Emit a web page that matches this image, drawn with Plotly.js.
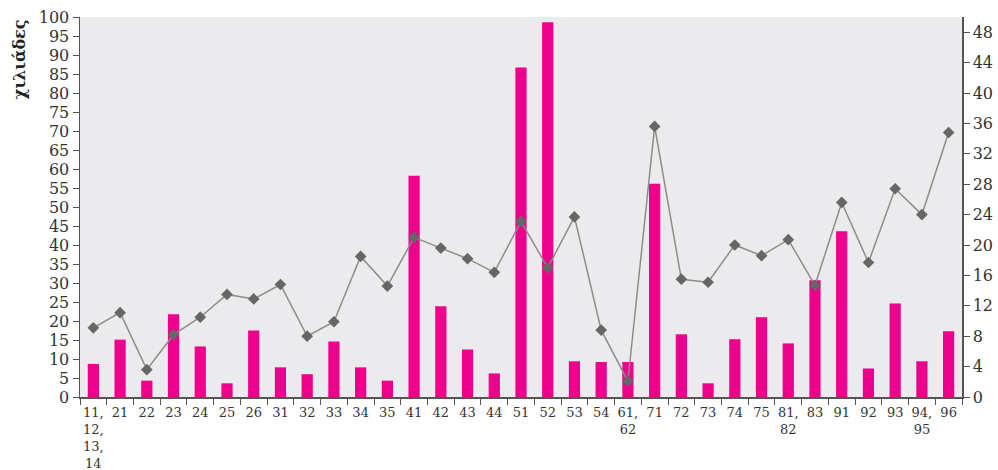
<!DOCTYPE html>
<html>
<head>
<meta charset="utf-8">
<script src="https://cdn.plot.ly/plotly-3.0.1.min.js"></script>
<style>html,body{margin:0;padding:0;background:#fff;}#chart{width:998px;height:470px;}</style>
</head>
<body>
<div id="chart"></div>
<script>
const categories = ["11,<br>12,<br>13,<br>14","21","22","23","24","25","26","31","32","33","34","35","41","42","43","44","51","52","53","54","61,<br>62","71","72","73","74","75","81,<br>82","83","91","92","93","94,<br>95","96"];
const barValues = [8.7,15.1,4.3,21.8,13.3,3.6,17.5,7.8,6.0,14.6,7.8,4.3,58.2,23.9,12.5,6.2,86.7,98.6,9.4,9.2,9.2,56.1,16.5,3.6,15.2,21.0,14.1,30.7,43.6,7.5,24.6,9.4,17.3];
const lineValues = [9.1,11.1,3.6,8.2,10.5,13.5,12.9,14.8,8.0,9.9,18.5,14.6,21.0,19.6,18.2,16.4,23.1,17.0,23.7,8.8,2.1,35.6,15.5,15.1,20.0,18.6,20.7,14.7,25.6,17.7,27.4,24.0,34.8];
const leftTicks = [0,5,10,15,20,25,30,35,40,45,50,55,60,65,70,75,80,85,90,95,100];
const rightTicks = [0,4,8,12,16,20,24,28,32,36,40,44,48];
const yTitle = "χιλιάδες";

const font = "DejaVu Serif, Liberation Serif, serif";
const axisColor = "#555555";

const traces = [
  {
    type: "bar",
    x: categories,
    y: barValues,
    marker: {color: "#EC008C"},
    width: 0.42,
    yaxis: "y",
    hoverinfo: "x+y"
  },
  {
    type: "scatter",
    mode: "lines+markers",
    x: categories,
    y: lineValues,
    yaxis: "y2",
    line: {color: "#8C8C8C", width: 1.5},
    marker: {symbol: "diamond", size: 9, color: "#666666"},
    hoverinfo: "x+y"
  }
];

const layout = {
  width: 998,
  height: 470,
  margin: {l: 80, r: 36, t: 17, b: 73},
  paper_bgcolor: "#ffffff",
  plot_bgcolor: "#EBEBED",
  showlegend: false,
  xaxis: {
    type: "category",
    range: [-0.5, categories.length - 0.5],
    tickson: "boundaries",
    ticks: "outside",
    ticklen: 6,
    tickcolor: axisColor,
    showline: true,
    linecolor: axisColor,
    linewidth: 1.5,
    showgrid: false,
    tickfont: {family: font, size: 13, color: "#333333"},
    ticklabelstandoff: 3,
    tickangle: 0,
    automargin: false
  },
  yaxis: {
    range: [0, 100],
    tickvals: leftTicks,
    ticks: "outside",
    ticklen: 6,
    tickcolor: axisColor,
    showline: true,
    linecolor: axisColor,
    linewidth: 1.5,
    showgrid: false,
    zeroline: false,
    tickfont: {family: font, size: 16, color: "#333333"},
    automargin: false
  },
  yaxis2: {
    range: [0, 50],
    tickvals: rightTicks,
    overlaying: "y",
    side: "right",
    ticks: "outside",
    ticklen: 6,
    tickcolor: axisColor,
    showline: true,
    linecolor: axisColor,
    linewidth: 1.5,
    showgrid: false,
    zeroline: false,
    tickfont: {family: font, size: 16, color: "#333333"},
    automargin: false
  },
  annotations: [
    {
      text: "<b>" + yTitle + "</b>",
      xref: "paper", yref: "paper",
      x: -0.069, y: 1.0,
      xanchor: "center", yanchor: "top",
      textangle: -90,
      showarrow: false,
      font: {family: font, size: 16, color: "#222222"}
    }
  ]
};

Plotly.newPlot("chart", traces, layout, {displayModeBar: false, staticPlot: true});
</script>
</body>
</html>
